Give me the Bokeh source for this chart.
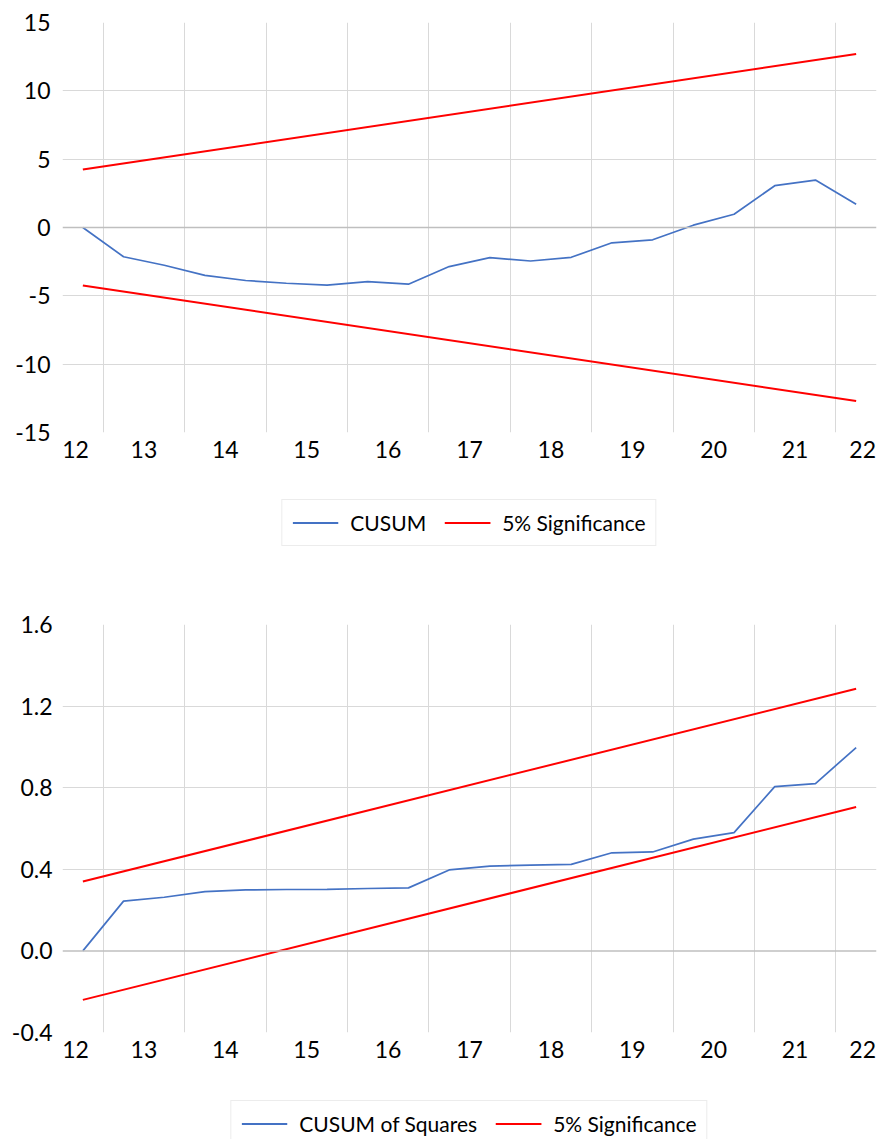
from bokeh.plotting import figure
from bokeh.models import (FixedTicker, CustomJSTickFormatter, PrintfTickFormatter,
                          Span, Legend, LegendItem, Range1d)
from bokeh.layouts import column
from bokeh.embed import file_html
from bokeh.resources import INLINE

# ---------------- data ----------------
periods = [12.25, 12.75, 13.25, 13.75, 14.25, 14.75, 15.25, 15.75, 16.25, 16.75,
           17.25, 17.75, 18.25, 18.75, 19.25, 19.75, 20.25, 20.75, 21.25, 21.75]
cusum = [0.0, -2.14, -2.76, -3.5, -3.88, -4.08, -4.22, -3.96, -4.15, -2.86,
         -2.21, -2.45, -2.18, -1.12, -0.90, 0.17, 0.97, 3.06, 3.47, 1.70]
cusum_sq = [0.0, 0.244, 0.263, 0.291, 0.299, 0.301, 0.302, 0.306, 0.309, 0.397,
            0.416, 0.420, 0.424, 0.481, 0.485, 0.548, 0.580, 0.805, 0.820, 0.997]
bound_x = [12.25, 21.75]
cusum_upper = [4.24, 12.70]
cusum_lower = [-4.24, -12.70]
sq_upper = [0.34, 1.285]
sq_lower = [-0.24, 0.705]
year_ticks = [12.16, 13, 14, 15, 16, 17, 18, 19, 20, 21, 21.83]
cusum_yticks = [-15, -10, -5, 0, 5, 10, 15]
sq_yticks = [-0.4, 0.0, 0.4, 0.8, 1.2, 1.6]
series_labels = ["CUSUM", "CUSUM of Squares", "5% Significance"]

BLUE = "#4472C4"
RED = "#FF0000"
GRID = "#D9D9D9"
ZERO = "#BFBFBF"
FONT = "Lato"

vgrid = [12.5, 13.5, 14.5, 15.5, 16.5, 17.5, 18.5, 19.5, 20.5, 21.5]


def style(p, ygrid_ticks, ystand):
    p.outline_line_color = None
    p.background_fill_color = "white"
    p.border_fill_color = "white"
    for ax in (p.xaxis[0], p.yaxis[0]):
        ax.axis_line_color = None
        ax.major_tick_line_color = None
        ax.minor_tick_line_color = None
        ax.major_tick_out = 0
        ax.major_tick_in = 0
        ax.minor_tick_out = 0
        ax.minor_tick_in = 0
        ax.major_label_text_font = FONT
        ax.major_label_text_font_size = "23px"
        ax.major_label_text_color = "#000000"
    p.yaxis[0].major_label_standoff = ystand
    p.xaxis[0].major_label_standoff = 8
    p.xaxis[0].ticker = FixedTicker(ticks=year_ticks)
    p.xaxis[0].formatter = CustomJSTickFormatter(code="return Math.round(tick).toString();")
    p.xgrid[0].ticker = FixedTicker(ticks=vgrid)
    p.ygrid[0].ticker = FixedTicker(ticks=ygrid_ticks)
    p.xgrid[0].grid_line_color = GRID
    p.ygrid[0].grid_line_color = GRID
    p.add_layout(Span(location=0, dimension="width", line_color=ZERO, line_width=1.5))


def legend_fig(height, left, right, margin, y_main, lo, hi, main_label):
    """A strip that only shows the legend (its lines lie outside its own range)."""
    q = figure(width=881, height=height, output_backend="svg", toolbar_location=None,
               x_range=Range1d(0, 1), y_range=Range1d(0, 1),
               x_axis_location=None, y_axis_location=None,
               min_border_left=left, min_border_right=right,
               min_border_top=0, min_border_bottom=0)
    q.grid.visible = False
    q.outline_line_color = None
    q.border_fill_color = "white"
    a = q.line(periods, y_main, line_color=BLUE, line_width=2)
    b = q.line(bound_x, lo, line_color=RED, line_width=2)
    c = q.line(bound_x, hi, line_color=RED, line_width=2)
    lg = Legend(items=[LegendItem(label=main_label, renderers=[a]),
                       LegendItem(label=series_labels[2], renderers=[b, c])],
                location="top_center", orientation="horizontal")
    lg.label_text_font = FONT
    lg.label_text_font_size = "21px"
    lg.label_text_color = "#000000"
    lg.glyph_width = 46
    lg.glyph_height = 21
    lg.label_height = 21
    lg.label_standoff = 12
    lg.spacing = 18
    lg.padding = 10
    lg.margin = margin
    lg.border_line_color = GRID
    lg.border_line_width = 1
    lg.background_fill_color = "white"
    q.add_layout(lg)
    return q


# ---------------- top: CUSUM ----------------
p1 = figure(width=881, height=480, output_backend="svg", toolbar_location=None,
            x_range=Range1d(12, 22), y_range=Range1d(-15, 15),
            min_border_left=57, min_border_right=5, min_border_top=22,
            min_border_bottom=48)
p1.yaxis[0].ticker = FixedTicker(ticks=cusum_yticks)
p1.yaxis[0].formatter = PrintfTickFormatter(format="%d")
style(p1, [-10, -5, 5, 10], 12)
p1.line(periods, cusum, line_color=BLUE, line_width=1.7)
p1.line(bound_x, cusum_upper, line_color=RED, line_width=2)
p1.line(bound_x, cusum_lower, line_color=RED, line_width=2)
l1 = legend_fig(120, 57, 5, 19, cusum, cusum_lower, cusum_upper, series_labels[0])

# ---------------- bottom: CUSUM of Squares ----------------
p2 = figure(width=881, height=478, output_backend="svg", toolbar_location=None,
            x_range=Range1d(12, 22), y_range=Range1d(-0.4, 1.6),
            min_border_left=62, min_border_right=3, min_border_top=24,
            min_border_bottom=46)
p2.yaxis[0].ticker = FixedTicker(ticks=sq_yticks)
p2.yaxis[0].formatter = PrintfTickFormatter(format="%.1f")
style(p2, [0.4, 0.8, 1.2], 10)
p2.line(periods, cusum_sq, line_color=BLUE, line_width=1.7)
p2.line(bound_x, sq_upper, line_color=RED, line_width=2)
p2.line(bound_x, sq_lower, line_color=RED, line_width=2)
l2 = legend_fig(61, 62, 3, 22, cusum_sq, sq_lower, sq_upper, series_labels[1])

layout = column(p1, l1, p2, l2, spacing=0)
open("out.html", "w").write(file_html(layout, INLINE))
